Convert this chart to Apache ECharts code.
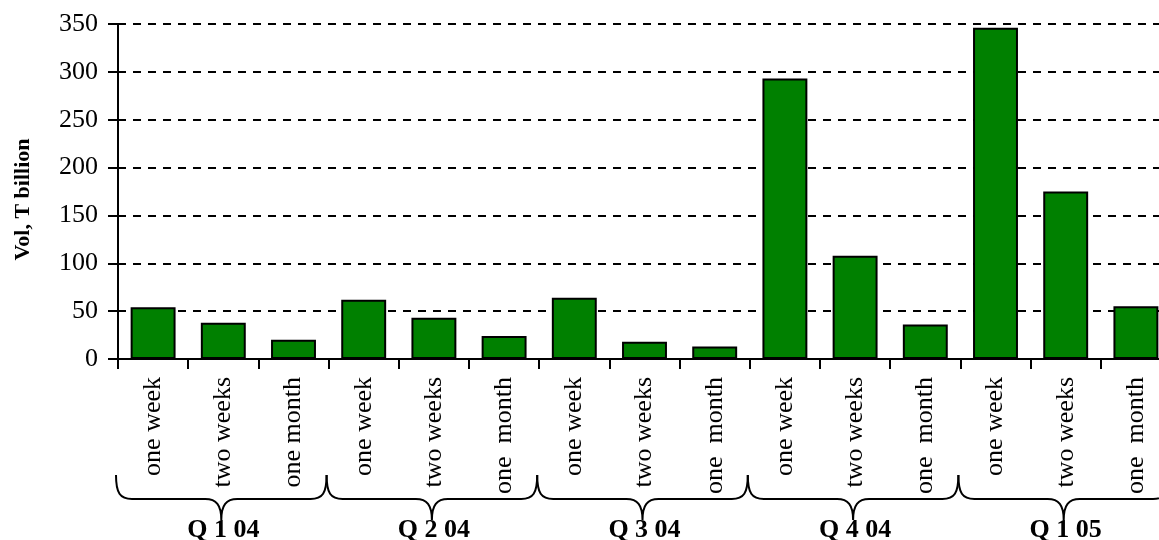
<!DOCTYPE html>
<html>
<head>
<meta charset="utf-8">
<script src="https://cdn.jsdelivr.net/npm/echarts@6/dist/echarts.min.js"></script>
<style>
  html, body { margin: 0; padding: 0; background: #fff; }
  #chart { width: 1159px; height: 540px; }
</style>
</head>
<body>
<div id="chart"></div>
<script>
// Maturity buckets per quarter
const categories = [
  'one week', 'two weeks', 'one month',
  'one week', 'two weeks', 'one  month',
  'one week', 'two weeks', 'one  month',
  'one week', 'two weeks', 'one  month',
  'one week', 'two weeks', 'one  month'
];
const quarters = ['Q 1 04', 'Q 2 04', 'Q 3 04', 'Q 4 04', 'Q 1 05'];
const volumes = [54, 38, 20, 62, 43, 24, 64, 18, 13, 293, 108, 36, 346, 175, 55];
const yTicks = { min: 0, max: 350, step: 50 };

const FONT = "'Liberation Serif', 'Times New Roman', serif";
const chart = echarts.init(document.getElementById('chart'), null, { renderer: 'canvas' });

// Curly brace spanning one quarter, drawn under the category labels
function renderBrace(params, api) {
  const c = api.coord([api.value(0), 0]);
  const w = api.size([1, 0])[0];
  const m = c[0] - 2;
  const x0 = c[0] - w / 2 - 2;
  const x1 = c[0] + w / 2 - 2;
  const top = c[1] + 116;
  const mid = c[1] + 140;
  const tip = c[1] + 161;
  const d = [
    'M', x0, top,
    'C', x0, top + 18, x0 + 4, mid, x0 + 16, mid,
    'L', m - 16, mid,
    'C', m - 5, mid, m, mid + 6, m, tip,
    'C', m, mid + 6, m + 5, mid, m + 16, mid,
    'L', x1 - 16, mid,
    'C', x1 - 4, mid, x1, top + 18, x1, top
  ].join(' ');
  return {
    type: 'path',
    shape: { pathData: d },
    style: { fill: 'none', stroke: '#000', lineWidth: 2 }
  };
}

chart.setOption({
  animation: false,
  backgroundColor: '#fff',
  // plot area runs past the right edge of the canvas
  grid: {
    left: 118, width: 1053, top: 24, bottom: 181,
    containLabel: false, outerBoundsMode: 'none'
  },
  xAxis: [
    {
      type: 'category',
      data: categories,
      boundaryGap: true,
      axisLine: { show: true, lineStyle: { color: '#000', width: 2 } },
      axisTick: { show: true, length: 10, lineStyle: { color: '#000', width: 2 } },
      axisLabel: {
        interval: 0, rotate: 90, margin: 18,
        fontFamily: FONT, fontSize: 26, color: '#000'
      },
      splitLine: { show: false }
    },
    {
      type: 'category',
      data: quarters,
      position: 'bottom',
      offset: 152,
      axisLine: { show: false },
      axisTick: { show: false },
      axisLabel: {
        interval: 0, margin: 6,
        fontFamily: FONT, fontSize: 26, fontWeight: 'bold', color: '#000'
      },
      splitLine: { show: false }
    }
  ],
  yAxis: {
    type: 'value',
    min: yTicks.min, max: yTicks.max, interval: yTicks.step,
    name: 'Vol, T billion',
    nameLocation: 'middle',
    nameRotate: 90,
    nameGap: 84,
    nameTextStyle: {
      fontFamily: FONT, fontSize: 22, fontWeight: 'bold', color: '#000',
      padding: [0, 16, 0, 0]
    },
    axisLine: { show: true, lineStyle: { color: '#000', width: 2 } },
    axisTick: { show: true, length: 10, lineStyle: { color: '#000', width: 2 } },
    axisLabel: { margin: 20, fontFamily: FONT, fontSize: 26, color: '#000' },
    splitLine: { show: true, lineStyle: { color: '#000', width: 2, type: [8, 7] } }
  },
  series: [
    {
      type: 'bar',
      data: volumes,
      xAxisIndex: 0,
      barWidth: '64%',
      itemStyle: { color: '#008000', borderColor: '#000', borderWidth: 2 },
      silent: true
    },
    {
      type: 'custom',
      xAxisIndex: 1,
      yAxisIndex: 0,
      data: quarters.map((q, i) => [i]),
      renderItem: renderBrace,
      clip: false,
      silent: true
    }
  ]
});
</script>
</body>
</html>
